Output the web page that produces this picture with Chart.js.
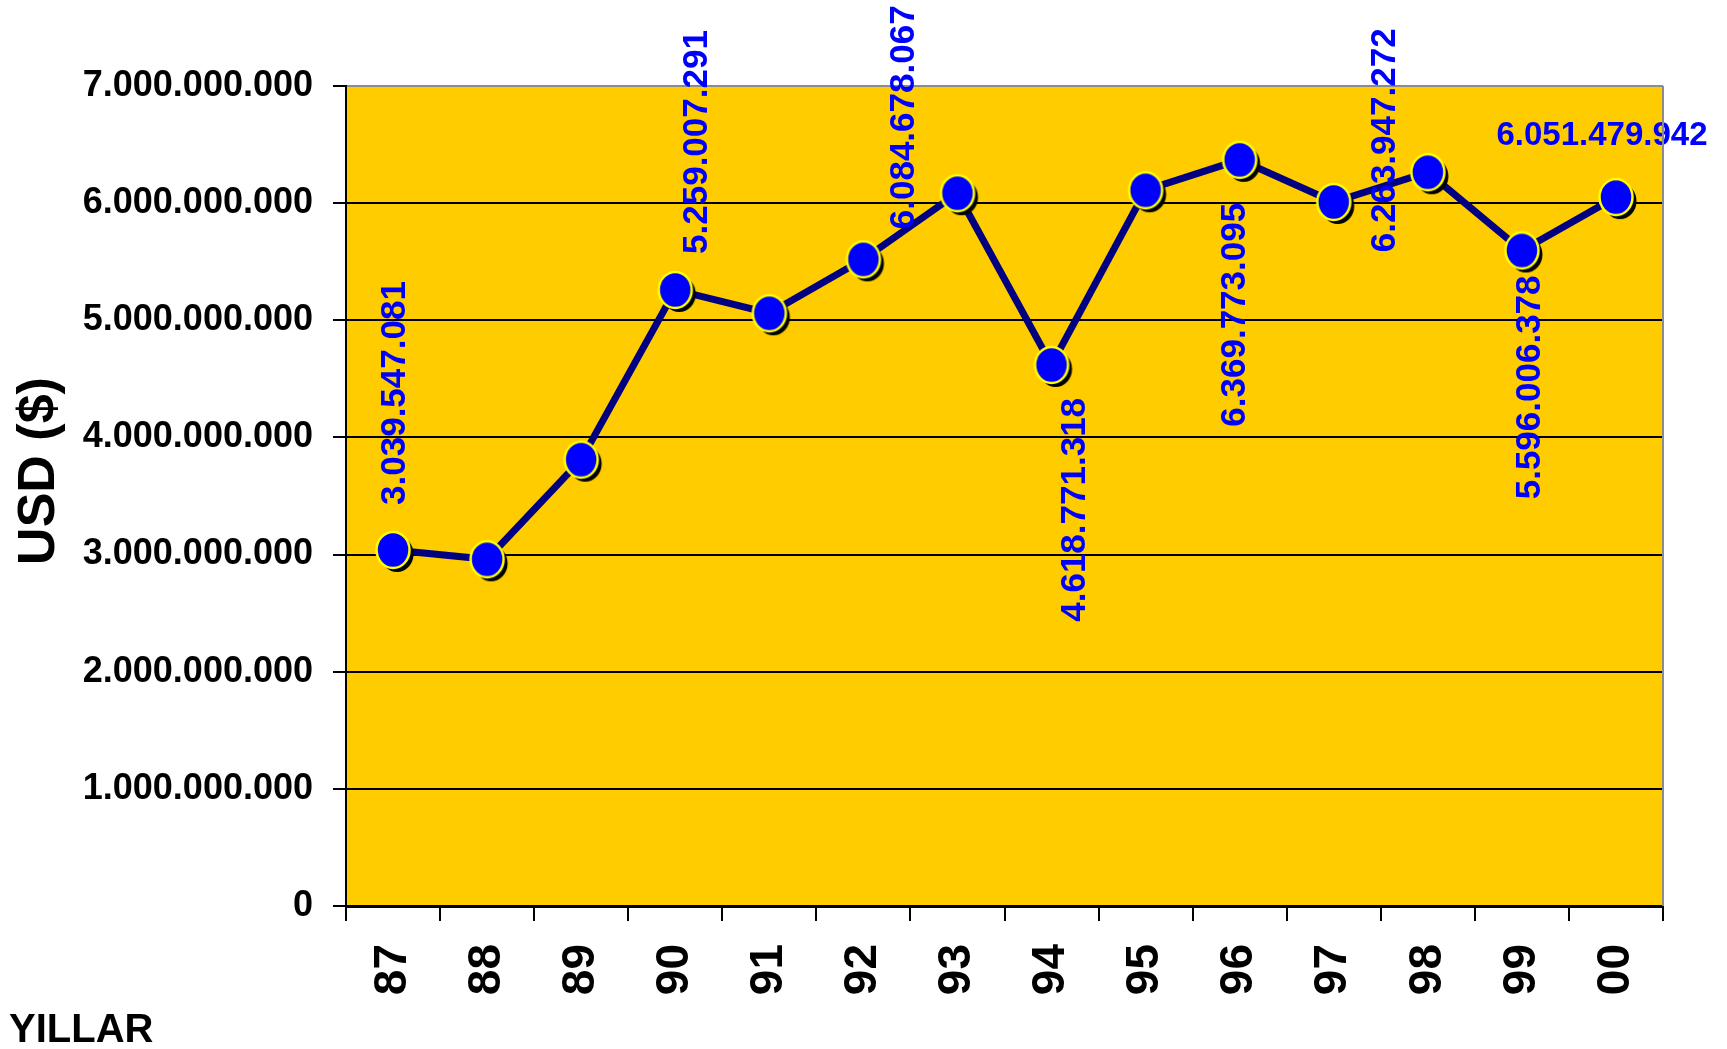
<!DOCTYPE html>
<html>
<head>
<meta charset="utf-8">
<script src="https://cdn.jsdelivr.net/npm/chart.js@4/dist/chart.umd.min.js"></script>
<style>
html,body{margin:0;padding:0;background:#fff;}
#wrap{width:1727px;height:1049px;position:relative;}
</style>
</head>
<body>
<div id="wrap"><canvas id="c" width="1727" height="1049"></canvas></div>
<script>
// ---- data ----
const years = ['87','88','89','90','91','92','93','94','95','96','97','98','99','00'];
const exportsUSD = [3039547081, 2960000000, 3810000000, 5259007291, 5060000000, 5520000000, 6084678067,
                    4618771318, 6110000000, 6369773095, 6010000000, 6263947272, 5596006378, 6051479942];
const labeledYears = ['87','90','93','94','96','98','99','00'];
const yMin = 0;
const yMax = 7000000000;
const yStep = 1000000000;
const yTitle = 'USD ($)';
const xTitle = 'YILLAR';

// ---- styles ----
const FONT = '"Liberation Sans", Arial, sans-serif';
const labelPlacement = {
  '87': {mode:'up',   dx:2,   dy:-45},
  '90': {mode:'up',   dx:22,  dy:-36},
  '93': {mode:'up',   dx:-53, dy:36},
  '94': {mode:'down', dx:24,  dy:33},
  '96': {mode:'down', dx:-4,  dy:43},
  '98': {mode:'up',   dx:-42, dy:80},
  '99': {mode:'down', dx:8,   dy:25},
  '00': {mode:'flat', dx:-14, dy:-61}
};

function fmt(v){ return String(Math.round(v)).replace(/\B(?=(\d{3})+(?!\d))/g, '.'); }

// marker image: blue disc, yellow rim, black drop shadow
function makeMarker(){
  const c = document.createElement('canvas');
  c.width = 54; c.height = 54;
  const g = c.getContext('2d');
  g.fillStyle = '#000';
  g.beginPath(); g.ellipse(31, 31, 16.5, 18, 0, 0, Math.PI*2); g.fill();
  g.fillStyle = '#0000FF';
  g.strokeStyle = '#FFFF00';
  g.lineWidth = 2.5;
  g.beginPath(); g.ellipse(27, 27, 16.5, 18, 0, 0, Math.PI*2); g.fill(); g.stroke();
  return c;
}
const marker = makeMarker();

const bgPlugin = {
  id: 'bg',
  beforeDraw(chart){
    const {ctx, chartArea:a} = chart;
    ctx.save();
    ctx.fillStyle = '#fff';
    ctx.fillRect(0,0,chart.width,chart.height);
    ctx.fillStyle = '#FFCC00';
    ctx.fillRect(a.left, a.top, a.right-a.left, a.bottom-a.top);
    ctx.restore();
  },
  afterDraw(chart){
    const {ctx, chartArea:a} = chart;
    ctx.save();
    ctx.strokeStyle = '#8c8c8c';
    ctx.lineWidth = 2;
    ctx.beginPath(); ctx.moveTo(a.right, a.top); ctx.lineTo(a.right, a.bottom); ctx.stroke();
    // axis titles
    ctx.fillStyle = '#000';
    ctx.font = 'bold 52px ' + FONT;
    ctx.textAlign = 'center';
    ctx.textBaseline = 'middle';
    ctx.translate(40, 471);
    ctx.rotate(-Math.PI/2);
    ctx.fillText(yTitle, 0, 0);
    ctx.restore();
    ctx.save();
    ctx.fillStyle = '#000';
    ctx.font = 'bold 40px ' + FONT;
    ctx.textAlign = 'left';
    ctx.textBaseline = 'alphabetic';
    ctx.fillText(xTitle, 9, 1042);
    ctx.restore();
  }
};

const labelPlugin = {
  id: 'vlabels',
  afterDatasetsDraw(chart){
    const {ctx} = chart;
    const meta = chart.getDatasetMeta(0);
    ctx.save();
    ctx.fillStyle = '#0000FF';
    labeledYears.forEach(yr => {
      const i = years.indexOf(yr);
      const p = meta.data[i];
      const pl = labelPlacement[yr];
      const txt = fmt(exportsUSD[i]);
      ctx.save();
      ctx.translate(p.x + pl.dx, p.y + pl.dy);
      if (pl.mode === 'flat'){
        ctx.font = 'bold 33px ' + FONT;
        ctx.textAlign = 'center';
        ctx.textBaseline = 'middle';
        ctx.fillText(txt, 0, 0);
      } else {
        ctx.font = 'bold 35px ' + FONT;
        ctx.rotate(-Math.PI/2);
        ctx.textAlign = pl.mode === 'up' ? 'left' : 'right';
        ctx.textBaseline = 'middle';
        ctx.fillText(txt, 0, 0);
      }
      ctx.restore();
    });
    ctx.restore();
  }
};

new Chart(document.getElementById('c'), {
  type: 'line',
  data: {
    labels: years,
    datasets: [{
      data: exportsUSD,
      borderColor: '#000080',
      borderWidth: 7,
      fill: false,
      tension: 0,
      pointStyle: marker,
      pointRadius: 18,
      pointHoverRadius: 18
    }]
  },
  options: {
    responsive: false,
    animation: false,
    events: [],
    layout: { padding: { top: 86, right: 64, left: 0, bottom: 0 } },
    plugins: { legend: {display:false}, tooltip: {enabled:false}, title: {display:false} },
    scales: {
      x: {
        type: 'category',
        offset: true,
        afterFit(s){ s.height = 143; },
        grid: { offset: true, drawOnChartArea: false, color: '#000', lineWidth: 2, tickLength: 15 },
        border: { color: '#000', width: 3 },
        ticks: {
          autoSkip: false, minRotation: 90, maxRotation: 90, padding: 23,
          color: '#000', font: { family: FONT, weight: 'bold', size: 46 }
        }
      },
      y: {
        min: yMin, max: yMax,
        afterFit(s){ s.width = 346; },
        grid: {
          color: c => (c.tick && c.tick.value === yMax) ? '#8c8c8c' : '#000',
          tickColor: '#000',
          lineWidth: 2, tickLength: 13
        },
        border: { color: '#000', width: 2 },
        ticks: {
          stepSize: yStep, padding: 20, color: '#000',
          font: { family: FONT, weight: 'bold', size: 36 },
          callback: v => fmt(v)
        }
      }
    }
  },
  plugins: [bgPlugin, labelPlugin]
});
</script>
</body>
</html>
